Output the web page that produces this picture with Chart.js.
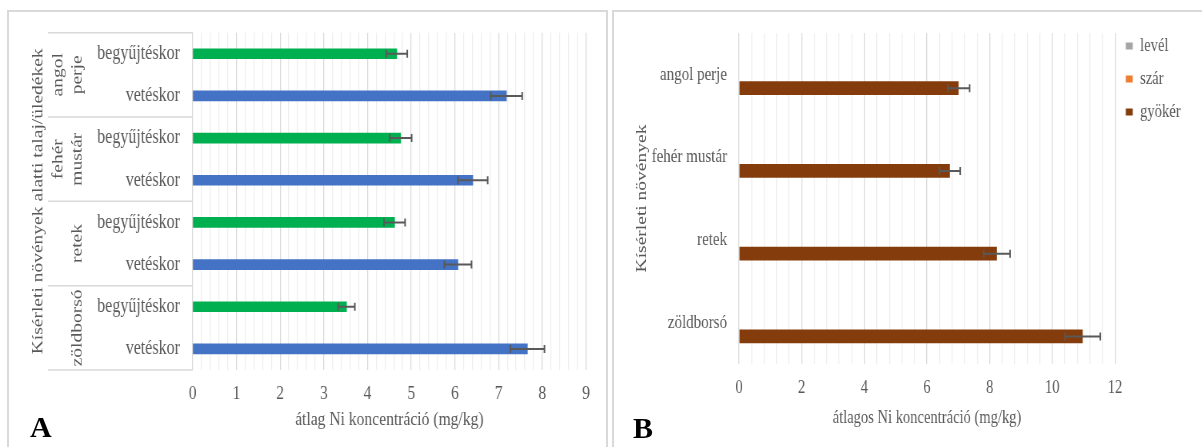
<!DOCTYPE html>
<html>
<head>
<meta charset="utf-8">
<script src="https://cdn.jsdelivr.net/npm/chart.js@4.4.1/dist/chart.umd.min.js"></script>
<style>
  html, body { margin: 0; padding: 0; background: #fff; width: 1202px; height: 447px; overflow: hidden; }
  .frame { position: absolute; border: 2px solid #d9d9d9; box-sizing: border-box; }
  #frameA { left: 7px; top: 10px; width: 601px; height: 470px; }
  #frameB { left: 612px; top: 10px; width: 640px; height: 470px; }
  .wrap { position: absolute; top: 0; transform-origin: 0 0; }
  #wrapA { left: 0; transform: scaleX(0.8); }
  #wrapB { left: 612px; transform: scaleX(0.77); }
  canvas { display: block; }
  .tag { position: absolute; font: bold 30px 'Liberation Serif', 'Times New Roman', serif; color: #000; line-height: 30px; }
</style>
</head>
<body>
<div class="frame" id="frameA"></div>
<div class="frame" id="frameB"></div>
<div class="wrap" id="wrapA"><canvas id="chartA" width="759" height="447"></canvas></div>
<div class="wrap" id="wrapB"><canvas id="chartB" width="766" height="447"></canvas></div>
<div class="tag" style="left:30px; top:412px;">A</div>
<div class="tag" style="left:633px; top:413px;">B</div>

<script>
// Test plants and sampling times
const plants = ['angol perje', 'fehér mustár', 'retek', 'zöldborsó'];
const samplingTimes = ['begyűjtéskor', 'vetéskor'];

// A: mean Ni in the soil/sediment under each plant (mg/kg) with error
const soilAtHarvest    = [4.67, 4.76, 4.62, 3.52];
const soilAtHarvestErr = [0.24, 0.25, 0.24, 0.19];
const soilAtSowing     = [7.18, 6.41, 6.07, 7.66];
const soilAtSowingErr  = [0.36, 0.34, 0.31, 0.39];
const ticksA = [0, 1, 2, 3, 4, 5, 6, 7, 8, 9];

// B: mean Ni in the plant organs (mg/kg) with error
const organs   = ['levél', 'szár', 'gyökér'];
const leafNi   = [null, null, null, null];
const stemNi   = [null, null, null, null];
const rootNi   = [7.01, 6.73, 8.23, 10.97];
const rootNiErr = [0.35, 0.33, 0.42, 0.56];
const ticksB = [0, 2, 4, 6, 8, 10, 12];

const TEXT = '#595959';
const GRID_MAJOR = '#d9d9d9';
const GRID_MINOR = '#eeeeee';
const timeColors = ['#00b050', '#4472c4'];
const organColors = ['#a5a5a5', '#ed7d31', '#843c0c'];

Chart.defaults.font.family = "'Liberation Serif', 'Times New Roman', serif";
Chart.defaults.color = TEXT;

const findTick = (list, v) => list.find(t => Math.abs(t - v) < 1e-6);

// whiskers for the +/- error of every bar that has one
const errorBars = {
  id: 'errorBars',
  afterDatasetsDraw(chart) {
    const { ctx } = chart;
    const xs = chart.scales.x;
    chart.data.datasets.forEach((ds, di) => {
      if (!ds.errors) return;
      const meta = chart.getDatasetMeta(di);
      meta.data.forEach((bar, i) => {
        const v = ds.data[i], e = ds.errors[i];
        if (v == null || e == null) return;
        const x1 = xs.getPixelForValue(v - e);
        const x2 = xs.getPixelForValue(v + e);
        const y = bar.y;
        ctx.save();
        ctx.strokeStyle = '#595959';
        ctx.lineWidth = 2;
        ctx.beginPath();
        ctx.moveTo(x1, y); ctx.lineTo(x2, y);
        ctx.moveTo(x1, y - 4); ctx.lineTo(x1, y + 4);
        ctx.moveTo(x2, y - 4); ctx.lineTo(x2, y + 4);
        ctx.stroke();
        ctx.restore();
      });
    });
  }
};

// second level of the category axis: plant names with separator lines
const plantGroups = {
  id: 'plantGroups',
  afterDraw(chart) {
    const { ctx, chartArea } = chart;
    const ys = chart.scales.y;
    const per = samplingTimes.length;
    const step = ys.getPixelForValue(1) - ys.getPixelForValue(0);
    ctx.save();
    ctx.strokeStyle = GRID_MAJOR;
    ctx.lineWidth = 1.5;
    for (let g = 0; g <= plants.length; g++) {
      const y = g === 0 ? chartArea.top
              : g === plants.length ? chartArea.bottom
              : ys.getPixelForValue(g * per) - step / 2;
      ctx.beginPath();
      ctx.moveTo(60, y);
      ctx.lineTo(chartArea.left, y);
      ctx.stroke();
    }
    ctx.fillStyle = TEXT;
    ctx.font = "19.5px 'Liberation Serif', 'Times New Roman', serif";
    ctx.textAlign = 'center';
    ctx.textBaseline = 'middle';
    plants.forEach((name, g) => {
      const yc = (ys.getPixelForValue(g * per) + ys.getPixelForValue(g * per + per - 1)) / 2;
      const lines = name.split(' ');
      lines.forEach((line, k) => {
        const x = 96.5 - (lines.length - 1 - k) * 24;
        ctx.save();
        ctx.translate(x, yc);
        ctx.rotate(-Math.PI / 2);
        ctx.fillText(line, 0, 0);
        ctx.restore();
      });
    });
    ctx.restore();
  }
};

// rows of chart A: every plant at harvest and at sowing
const rowLabels = [], rowValues = [], rowErrors = [], rowColors = [];
plants.forEach((p, i) => {
  rowLabels.push(samplingTimes[0]); rowValues.push(soilAtHarvest[i]);
  rowErrors.push(soilAtHarvestErr[i]); rowColors.push(timeColors[0]);
  rowLabels.push(samplingTimes[1]); rowValues.push(soilAtSowing[i]);
  rowErrors.push(soilAtSowingErr[i]); rowColors.push(timeColors[1]);
});

new Chart(document.getElementById('chartA'), {
  type: 'bar',
  data: {
    labels: rowLabels,
    datasets: [{
      data: rowValues,
      errors: rowErrors,
      backgroundColor: rowColors,
      borderWidth: 0,
      barThickness: 10
    }]
  },
  options: {
    indexAxis: 'y',
    responsive: false,
    animation: false,
    events: [],
    layout: { padding: { left: 0, top: 32.7, right: 26.5, bottom: 0 } },
    plugins: { legend: { display: false }, tooltip: { enabled: false } },
    scales: {
      x: {
        min: 0, max: 9,
        afterFit: s => { s.height = 77; },
        ticks: {
          stepSize: 0.2, autoSkip: false, maxRotation: 0, minRotation: 0,
          padding: 12.3, color: TEXT, font: { size: 19.5 },
          callback: v => { const t = findTick(ticksA, v); return t === undefined ? '' : String(t); }
        },
        grid: {
          drawTicks: false, lineWidth: 1.25,
          color: c => findTick(ticksA, c.tick.value) === undefined ? GRID_MINOR : GRID_MAJOR
        },
        border: { display: false },
        title: {
          display: true, text: 'átlag Ni koncentráció (mg/kg)', color: TEXT,
          font: { size: 19.5 }, padding: { top: 0, bottom: 15.8 }
        }
      },
      y: {
        afterFit: s => { s.width = 240.9; },
        ticks: { padding: 16, color: TEXT, font: { size: 20 } },
        grid: { display: false, drawTicks: false },
        border: { display: false },
        title: {
          display: true, text: 'Kísérleti növények alatti talaj/üledékek', color: TEXT,
          font: { size: 19.5 }, padding: { top: 35.8, bottom: 0 }
        }
      }
    }
  },
  plugins: [errorBars, plantGroups]
});

new Chart(document.getElementById('chartB'), {
  type: 'bar',
  data: {
    labels: plants,
    datasets: [
      { label: organs[0], data: leafNi, backgroundColor: organColors[0], borderColor: organColors[0], borderWidth: 0 },
      { label: organs[1], data: stemNi, backgroundColor: organColors[1], borderColor: organColors[1], borderWidth: 0 },
      { label: organs[2], data: rootNi, errors: rootNiErr, backgroundColor: organColors[2], borderColor: organColors[2], borderWidth: 0 }
    ]
  },
  options: {
    indexAxis: 'y',
    responsive: false,
    animation: false,
    events: [],
    datasets: { bar: { categoryPercentage: 0.5, barPercentage: 1 } },
    layout: { padding: { left: 0, top: 22.5, right: 17.5, bottom: 0 } },
    plugins: {
      title: { display: true, text: '', padding: 0, font: { size: 10, lineHeight: 1.05 } },
      legend: {
        position: 'right', align: 'start',
        labels: { boxWidth: 9, boxHeight: 7, padding: 14, color: TEXT, font: { size: 19 } }
      },
      tooltip: { enabled: false }
    },
    scales: {
      x: {
        min: 0, max: 12,
        afterFit: s => { s.height = 83; },
        ticks: {
          stepSize: 0.4, autoSkip: false, maxRotation: 0, minRotation: 0,
          padding: 12.9, color: TEXT, font: { size: 19 },
          callback: v => { const t = findTick(ticksB, v); return t === undefined ? '' : String(t); }
        },
        grid: {
          drawTicks: false, lineWidth: 1.3,
          color: c => findTick(ticksB, c.tick.value) === undefined ? GRID_MINOR : GRID_MAJOR
        },
        border: { display: false },
        title: {
          display: true, text: 'átlagos Ni koncentráció (mg/kg)', color: TEXT,
          font: { size: 18.9 }, padding: { top: 0, bottom: 17.7 }
        }
      },
      y: {
        afterFit: s => { s.width = 164.9; },
        ticks: { padding: 15.5, color: TEXT, font: { size: 19.5 } },
        grid: { display: false, drawTicks: false },
        border: { display: false },
        title: {
          display: true, text: 'Kísérleti növények', color: TEXT,
          font: { size: 19.5 }, padding: { top: 26.8, bottom: 0 }
        }
      }
    }
  },
  plugins: [errorBars]
});
</script>
</body>
</html>
